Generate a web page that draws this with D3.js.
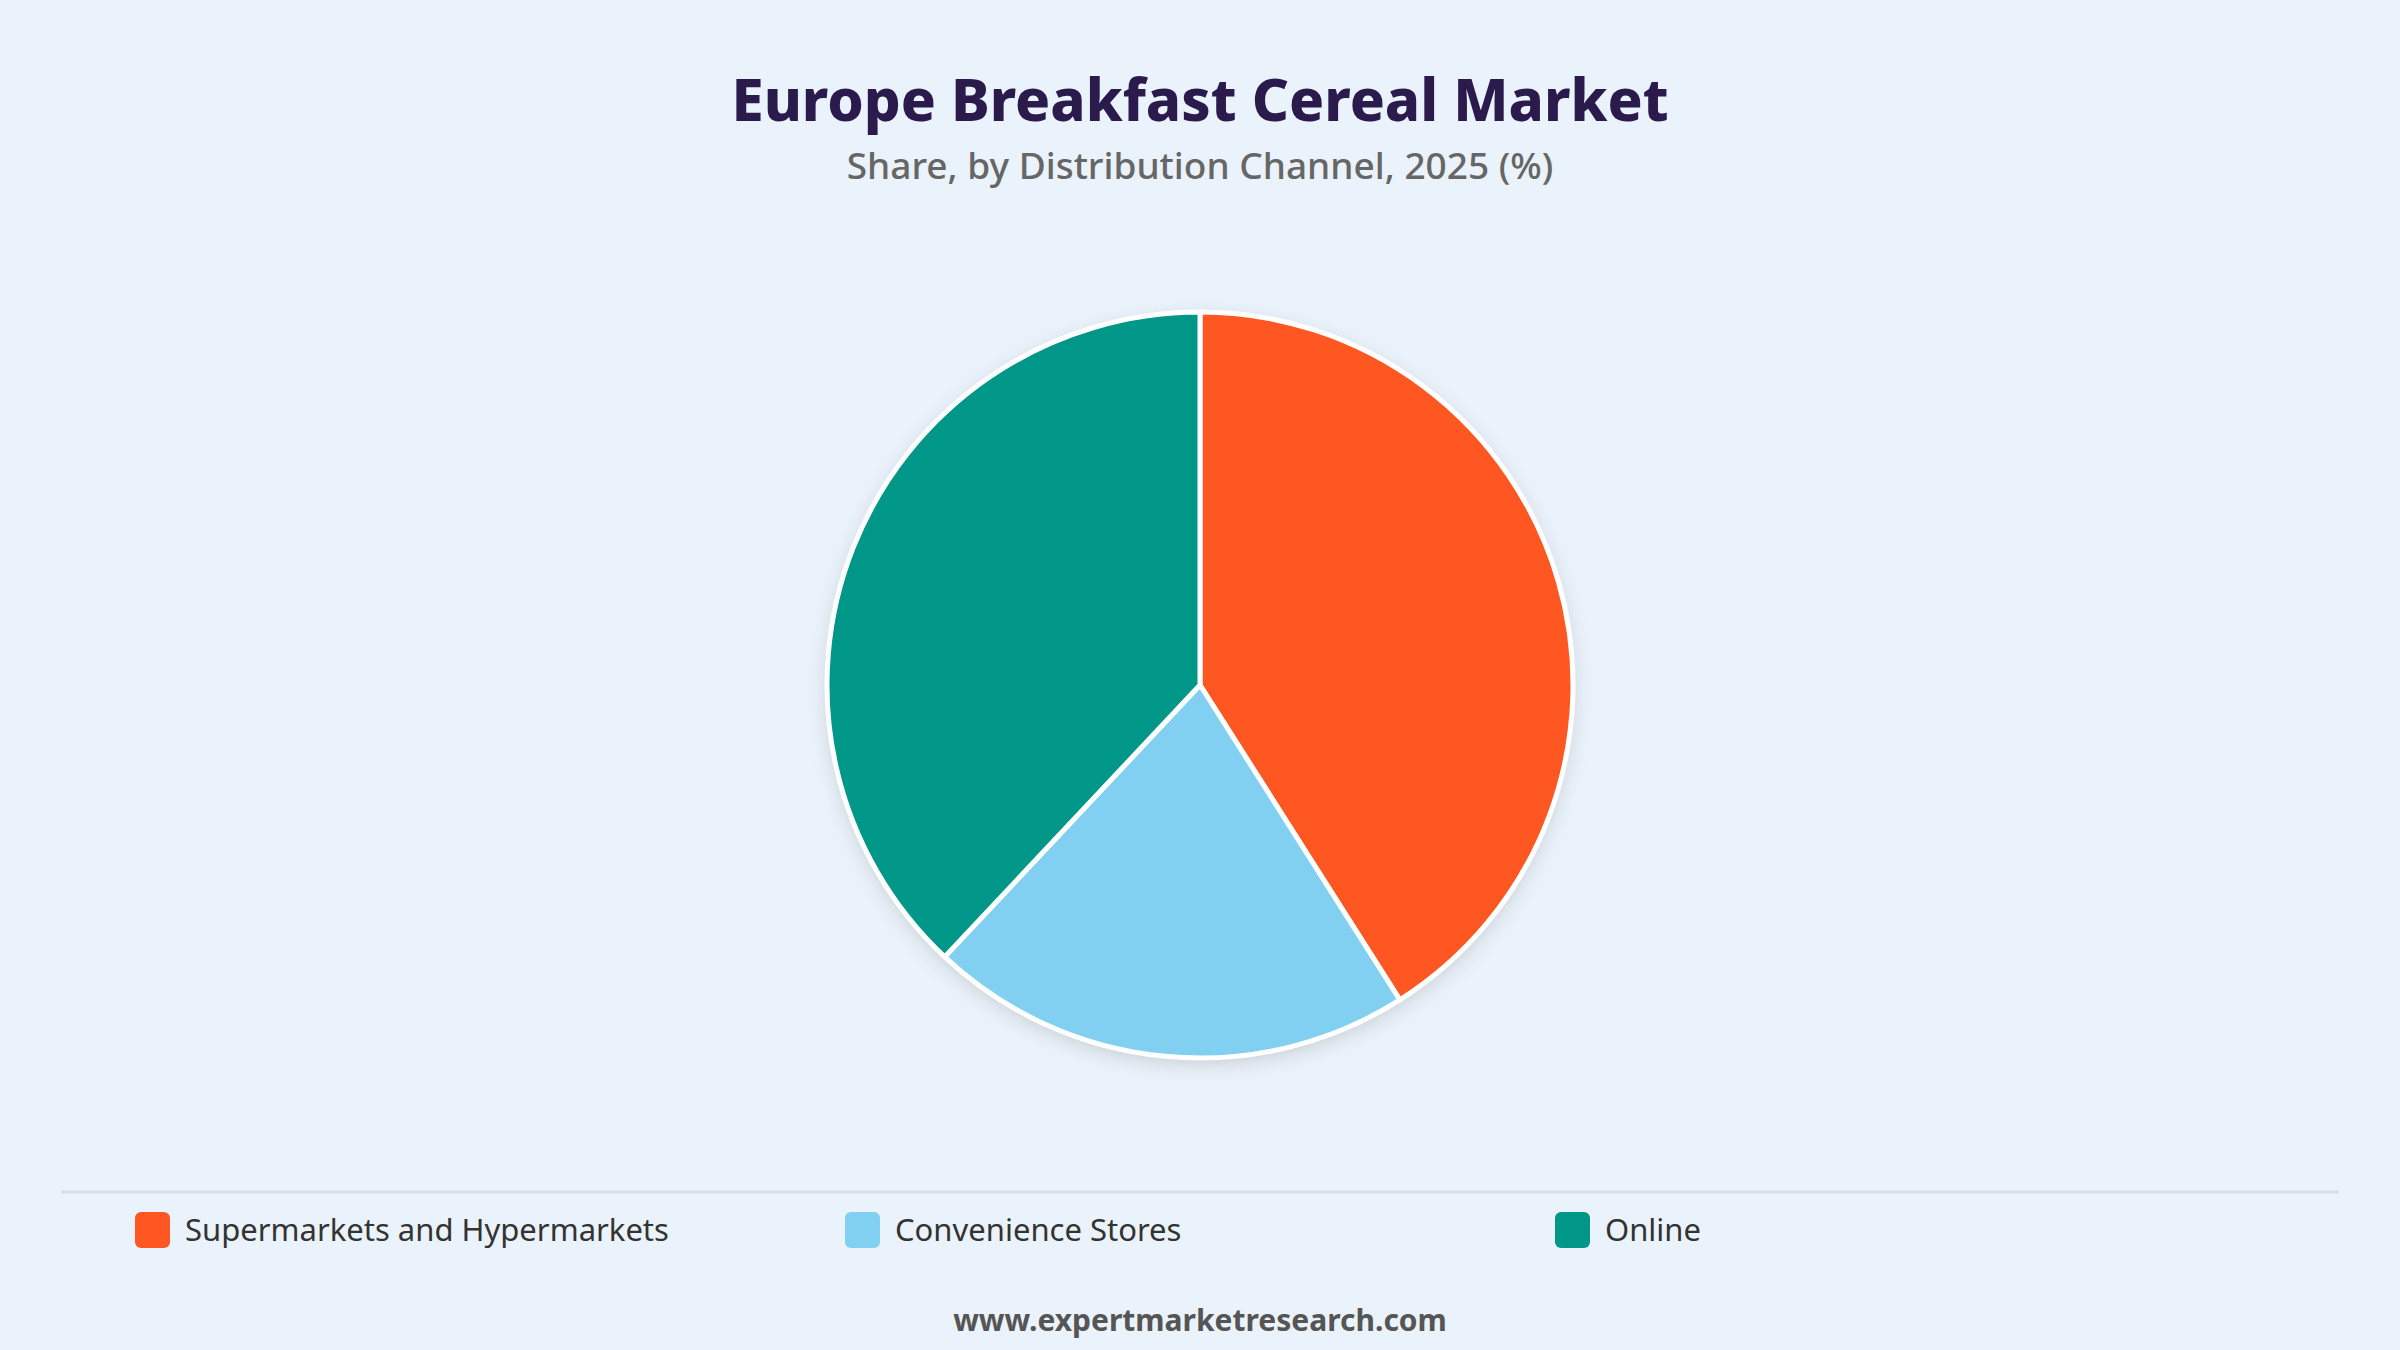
<!DOCTYPE html>
<html>
<head>
<meta charset="utf-8">
<script src="https://cdn.jsdelivr.net/npm/d3@7"></script>
<style>
  body { margin: 0; background: #eaf2fb; }
  svg { display: block; font-family: "Noto Sans", "Open Sans", sans-serif; }
</style>
</head>
<body>
<div id="chart"></div>
<script>
// data
const channels = ["Supermarkets and Hypermarkets", "Convenience Stores", "Online"];
const shares = [41, 21, 38];
const colors = ["#ff5722", "#81cff1", "#009688"];

const W = 2400, H = 1350;
const svg = d3.select("#chart")
    .append("svg")
    .attr("width", W)
    .attr("height", H);

svg.append("rect")
    .attr("width", W)
    .attr("height", H)
    .attr("fill", "#eaf2fb");

// drop shadow for the pie
const defs = svg.append("defs");
const f = defs.append("filter")
    .attr("id", "shadow")
    .attr("x", "-20%").attr("y", "-20%")
    .attr("width", "140%").attr("height", "140%");
f.append("feDropShadow")
    .attr("dx", 0)
    .attr("dy", 6)
    .attr("stdDeviation", 10)
    .attr("flood-color", "#000")
    .attr("flood-opacity", 0.15);

// titles
svg.append("text")
    .attr("x", W / 2)
    .attr("y", 121)
    .attr("text-anchor", "middle")
    .style("font-size", "58px")
    .style("font-weight", 800)
    .style("fill", "#2b1a4c")
    .text("Europe Breakfast Cereal Market");

svg.append("text")
    .attr("x", W / 2)
    .attr("y", 179)
    .attr("text-anchor", "middle")
    .style("font-size", "37px")
    .style("font-weight", 500)
    .style("fill", "#666666")
    .text("Share, by Distribution Channel, 2025 (%)");

// pie
const data = channels.map((c, i) => ({name: c, value: shares[i], color: colors[i]}));
const radius = 373;
const pie = d3.pie().sort(null).value(d => d.value);
const arc = d3.arc().innerRadius(0).outerRadius(radius);

const g = svg.append("g")
    .attr("transform", `translate(${W / 2},685)`);

g.append("circle")
    .attr("r", radius)
    .attr("fill", "#fff")
    .attr("filter", "url(#shadow)");

g.selectAll("path")
    .data(pie(data))
    .join("path")
    .attr("d", arc)
    .attr("fill", d => d.data.color)
    .attr("stroke", "#fff")
    .attr("stroke-width", 5)
    .attr("stroke-linejoin", "round");

// legend separator
svg.append("line")
    .attr("x1", 61).attr("x2", 2339)
    .attr("y1", 1192).attr("y2", 1192)
    .attr("stroke", "#d9dde2")
    .attr("stroke-width", 3);

const legend = svg.selectAll(".legend")
    .data(data)
    .join("g")
    .attr("class", "legend")
    .attr("transform", (d, i) => `translate(${135 + i * 710},1230)`);

legend.append("rect")
    .attr("x", 0)
    .attr("y", -18)
    .attr("width", 35)
    .attr("height", 36)
    .attr("rx", 6)
    .attr("fill", d => d.color);

legend.append("text")
    .attr("x", 50)
    .attr("y", 0)
    .attr("dy", "0.35em")
    .style("font-size", "31px")
    .style("fill", "#333")
    .text(d => d.name);

// footer
svg.append("text")
    .attr("x", W / 2)
    .attr("y", 1331)
    .attr("text-anchor", "middle")
    .style("font-size", "30px")
    .style("font-weight", 700)
    .style("fill", "#555")
    .text("www.expertmarketresearch.com");
</script>
</body>
</html>
